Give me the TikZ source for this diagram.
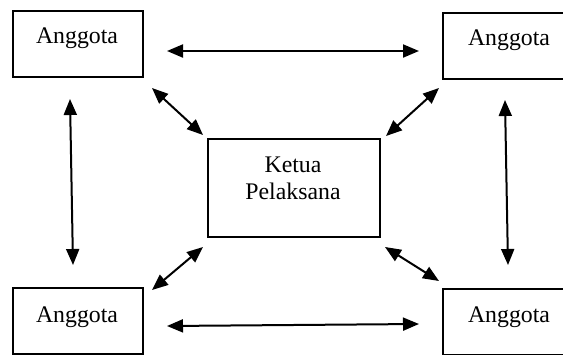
\documentclass[tikz,border=0pt]{standalone}
\usepackage{fontspec}
\setmainfont{Liberation Serif}
\usetikzlibrary{arrows.meta}
\begin{document}
\begin{tikzpicture}[x=1pt,y=-1pt,
  boxnode/.style={draw=black,line width=2pt,rectangle,inner sep=0pt},
  txt/.style={font=\fontsize{23.8}{27}\selectfont,inner sep=0pt,anchor=base},
  link/.style={line width=2pt,{Triangle[length=16pt,width=13pt]}-{Triangle[length=16pt,width=13pt]}}]
\useasboundingbox (0,0) rectangle (563,354);
\clip (0,0) rectangle (563,354);
% boxes
\node[boxnode,minimum width=130pt,minimum height=66pt] (tl) at (78,44) {};
\node[boxnode,minimum width=132pt,minimum height=66pt] (tr) at (509,46) {};
\node[boxnode,minimum width=130pt,minimum height=66pt] (bl) at (78,321) {};
\node[boxnode,minimum width=132pt,minimum height=66pt] (br) at (509,322) {};
\node[boxnode,minimum width=172pt,minimum height=98pt] (ctr) at (294,188) {};
% texts
\node[txt] (tltxt) at (77,43) {Anggota};
\node[txt] (trtxt) at (509,45) {Anggota};
\node[txt] (bltxt) at (77,322) {Anggota};
\node[txt] (brtxt) at (509,322) {Anggota};
\node[txt] (ctrtxt1) at (293,172) {Ketua};
\node[txt] (ctrtxt2) at (293,199) {Pelaksana};
% connector ends
\coordinate (h1a) at (167,51);  \coordinate (h1b) at (419,51);
\coordinate (h2a) at (167,326); \coordinate (h2b) at (419,324);
\coordinate (v1a) at (70,99);   \coordinate (v1b) at (73,265);
\coordinate (v2a) at (505,100); \coordinate (v2b) at (508,265);
\coordinate (d1a) at (152,88);  \coordinate (d1b) at (203,135);
\coordinate (d2a) at (439,88);  \coordinate (d2b) at (386,136);
\coordinate (d3a) at (152,290); \coordinate (d3b) at (203,247);
\coordinate (d4a) at (439,281); \coordinate (d4b) at (385,247);
% connectors
\draw[link] (h1a) -- (h1b);
\draw[link] (h2a) -- (h2b);
\draw[link] (v1a) -- (v1b);
\draw[link] (v2a) -- (v2b);
\draw[link] (d1a) -- (d1b);
\draw[link] (d2a) -- (d2b);
\draw[link] (d3a) -- (d3b);
\draw[link] (d4a) -- (d4b);
\end{tikzpicture}
\end{document}
